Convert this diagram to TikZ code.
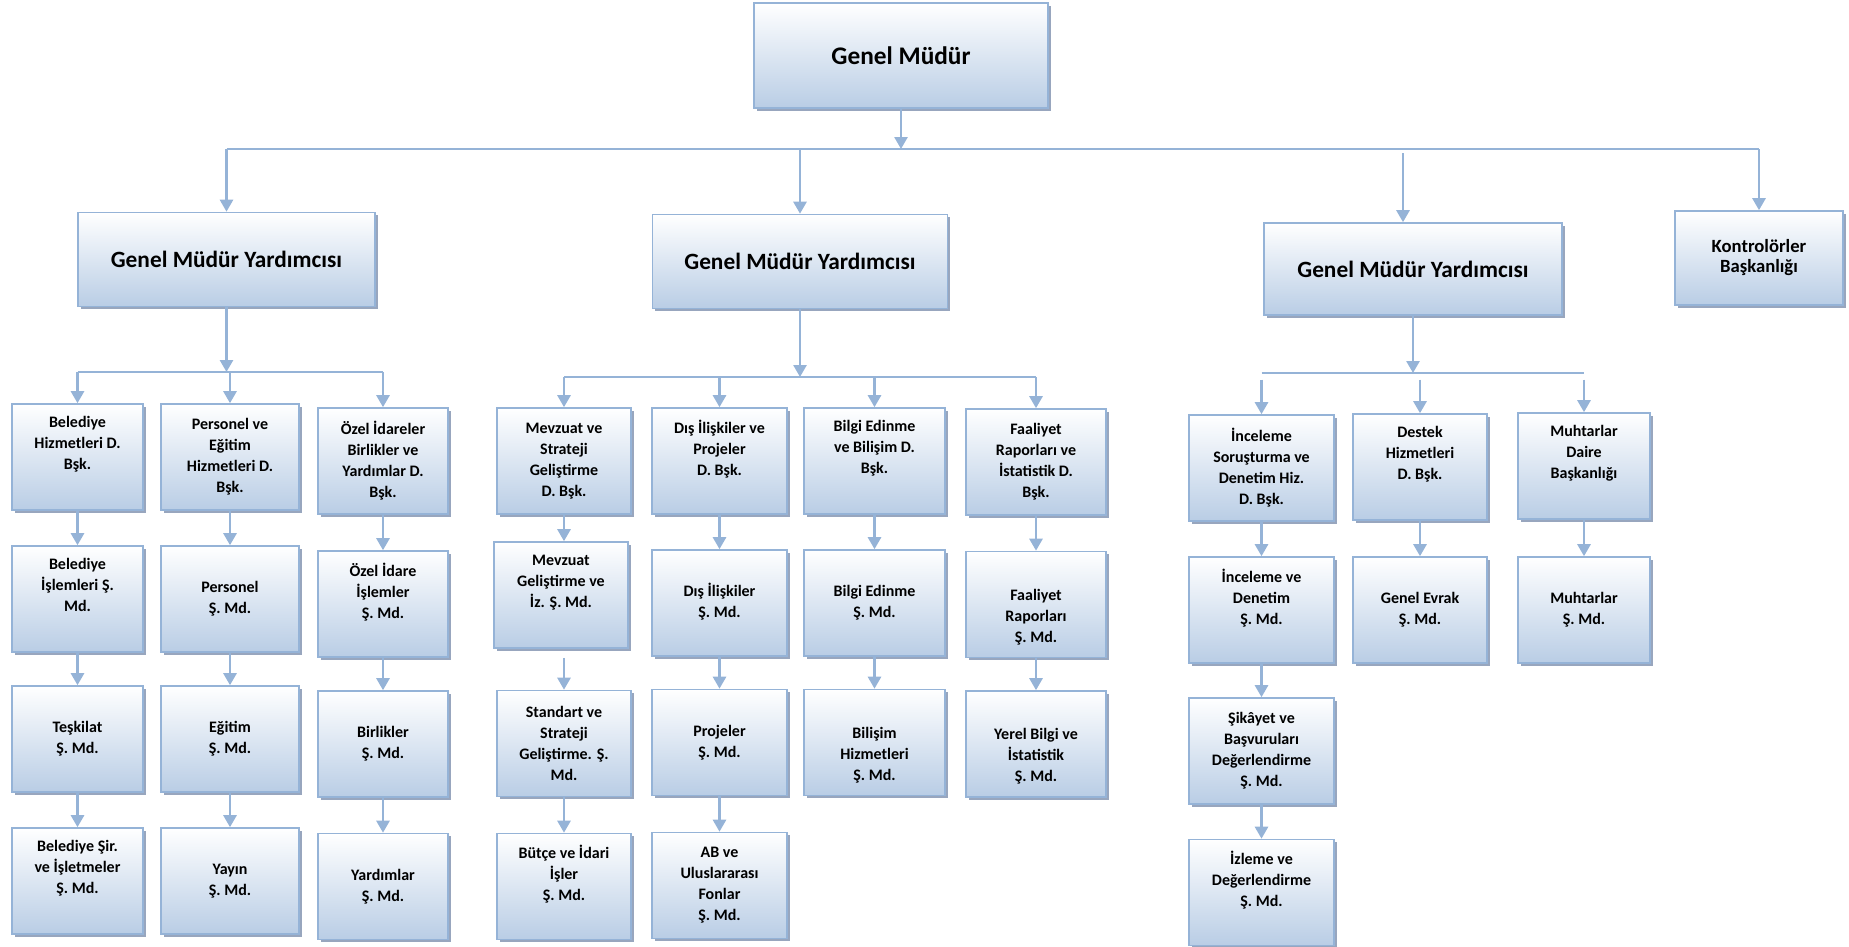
\documentclass[tikz,border=0pt]{standalone}
\usepackage{fontspec}
\setmainfont{Carlito}
\usetikzlibrary{arrows.meta,shadows}

\definecolor{boxline}{RGB}{149,179,215}
\definecolor{boxfill}{RGB}{185,205,229}
\definecolor{boxshade}{RGB}{152,166,190}
\definecolor{linkblue}{RGB}{149,179,215}

\tikzset{every picture/.style={line width=0.75pt}}
\tikzset{
  unit/.style={draw=boxline, line width=1.2pt, top color=white, bottom color=boxfill,
    drop shadow={shadow xshift=2.2pt, shadow yshift=-2.2pt, fill=boxshade, opacity=1},
    align=center, inner sep=0pt, minimum height=79.5pt,
    font=\bfseries\fontsize{12}{15.75}\selectfont},
  deputy/.style={unit, minimum height=70.5pt, font=\bfseries\fontsize{17.5}{21}\selectfont},
  link/.style={draw=linkblue, line width=2pt, -{Triangle[width=9.75pt,length=9pt]}},
  bus/.style={draw=linkblue, line width=2pt},
}

\begin{document}
\begin{tikzpicture}[x=0.75pt,y=0.75pt,yscale=-1,xscale=1]
\useasboundingbox (0,0) rectangle (1849,946);

%Shape: Rectangle -- Genel Mudur
\node [unit, minimum width=220.5pt, minimum height=78.75pt, font=\bfseries\fontsize{19}{23}\selectfont] (gm) at (901,55.5) {Genel Müdür};

%Shape: Rectangle -- deputies
\node [deputy, minimum width=222.75pt] (gmy1) at (226.5,259.5) {Genel Müdür Yardımcısı};
\node [deputy, minimum width=221.25pt] (gmy2) at (800,261.5) {Genel Müdür Yardımcısı};
\node [deputy, minimum width=223.5pt, minimum height=69pt] (gmy3) at (1413,269) {Genel Müdür Yardımcısı};
\node [unit, minimum width=126pt, minimum height=70.5pt, font=\bfseries\fontsize{14}{15}\selectfont] (kb) at (1759,258) {Kontrolörler\\Başkanlığı};

%Shape: Rectangle -- left column group
\node [unit, minimum width=98.25pt] (b1) at (77.5,457) {Belediye\\Hizmetleri D.\\Bşk.\\\strut};
\node [unit, minimum width=98.25pt] (b2) at (77.5,599) {Belediye\\İşlemleri Ş.\\Md.\\\strut};
\node [unit, minimum width=98.25pt] (b3) at (77.5,739) {\strut\\Teşkilat\\Ş. Md.\\\strut};
\node [unit, minimum width=98.25pt] (b4) at (77.5,881) {Belediye Şir.\\ve İşletmeler\\Ş. Md.\\\strut};

\node [unit, minimum width=103.5pt] (p1) at (230,457) {Personel ve\\Eğitim\\Hizmetleri D.\\Bşk.};
\node [unit, minimum width=103.5pt] (p2) at (230,599) {\strut\\Personel\\Ş. Md.\\\strut};
\node [unit, minimum width=103.5pt] (p3) at (230,739) {\strut\\Eğitim\\Ş. Md.\\\strut};
\node [unit, minimum width=103.5pt] (p4) at (230,881) {\strut\\Yayın\\Ş. Md.\\\strut};

\node [unit, minimum width=97.5pt] (o1) at (383,461) {Özel İdareler\\Birlikler ve\\Yardımlar D.\\Bşk.};
\node [unit, minimum width=97.5pt] (o2) at (383,604) {Özel İdare\\İşlemler\\Ş. Md.\\\strut};
\node [unit, minimum width=97.5pt] (o3) at (383,744) {\strut\\Birlikler\\Ş. Md.\\\strut};
\node [unit, minimum width=97.5pt] (o4) at (383,886.5) {\strut\\Yardımlar\\Ş. Md.\\\strut};

%Shape: Rectangle -- middle group
\node [unit, minimum width=100.5pt] (mv1) at (564,461) {Mevzuat ve\\Strateji\\Geliştirme\\D. Bşk.};
\node [unit, minimum width=100.5pt] (mv2) at (561,595) {Mevzuat\\Geliştirme ve\\İz. Ş. Md.\\\strut};
\node [unit, minimum width=100.5pt] (mv3) at (564,743.5) {Standart ve\\Strateji\\Geliştirme. Ş.\\Md.};
\node [unit, minimum width=100.5pt] (mv4) at (564,886.5) {Bütçe ve İdari\\İşler\\Ş. Md.\\\strut};

\node [unit, minimum width=101.25pt] (di1) at (719.5,461) {Dış İlişkiler ve\\Projeler\\D. Bşk.\\\strut};
\node [unit, minimum width=101.25pt] (di2) at (719.5,603) {\strut\\Dış İlişkiler\\Ş. Md.\\\strut};
\node [unit, minimum width=101.25pt] (di3) at (719.5,742.5) {\strut\\Projeler\\Ş. Md.\\\strut};
\node [unit, minimum width=101.25pt] (di4) at (719.5,885.5) {AB ve\\Uluslararası\\Fonlar\\Ş. Md.};

\node [unit, minimum width=105.75pt] (be1) at (874.5,461) {Bilgi Edinme\\ve Bilişim D.\\Bşk.\\\strut};
\node [unit, minimum width=105.75pt] (be2) at (874.5,603) {\strut\\Bilgi Edinme\\Ş. Md.\\\strut};
\node [unit, minimum width=105.75pt] (be3) at (874.5,742.5) {\strut\\Bilişim\\Hizmetleri\\Ş. Md.};

\node [unit, minimum width=105pt] (fa1) at (1036,462) {Faaliyet\\Raporları ve\\İstatistik D.\\Bşk.};
\node [unit, minimum width=105pt] (fa2) at (1036,604.5) {\strut\\Faaliyet\\Raporları\\Ş. Md.};
\node [unit, minimum width=105pt] (fa3) at (1036,744) {\strut\\Yerel Bilgi ve\\İstatistik\\Ş. Md.};

%Shape: Rectangle -- right group
\node [unit, minimum width=108.75pt] (in1) at (1261.5,468) {İnceleme\\Soruşturma ve\\Denetim Hiz.\\D. Bşk.};
\node [unit, minimum width=108.75pt] (in2) at (1261.5,610) {İnceleme ve\\Denetim\\Ş. Md.\\\strut};
\node [unit, minimum width=108.75pt] (in3) at (1261.5,751) {Şikâyet ve\\Başvuruları\\Değerlendirme\\Ş. Md.};
\node [unit, minimum width=108.75pt] (in4) at (1261.5,892.5) {İzleme ve\\Değerlendirme\\Ş. Md.\\\strut};

\node [unit, minimum width=100.5pt] (de1) at (1420,467) {Destek\\Hizmetleri\\D. Bşk.\\\strut};
\node [unit, minimum width=100.5pt] (de2) at (1420,610) {\strut\\Genel Evrak\\Ş. Md.\\\strut};

\node [unit, minimum width=99pt] (mu1) at (1584,466) {Muhtarlar\\Daire\\Başkanlığı\\\strut};
\node [unit, minimum width=99pt] (mu2) at (1584,610) {\strut\\Muhtarlar\\Ş. Md.\\\strut};

%Straight Lines -- bus rails
\coordinate (bus0) at (0,149);
\coordinate (bus1) at (0,372);
\coordinate (bus2) at (0,377);
\coordinate (bus3) at (0,373);
\coordinate (d3) at (1403,153);

\draw [link] (gm.south) -- (gm.south |- bus0);
\draw [bus] (gmy1.north |- bus0) -- (kb.north |- bus0);
\draw [link] (gmy1.north |- bus0) -- (gmy1.north);
\draw [link] (gmy2.north |- bus0) -- (gmy2.north);
\draw [link] (d3) -- (d3 |- gmy3.north);
\draw [link] (kb.north |- bus0) -- (kb.north);

%Straight Lines -- left group
\draw [link] (gmy1.south) -- (gmy1.south |- bus1);
\draw [bus] (b1.north |- bus1) -- (o1.north |- bus1);
\draw [link] (b1.north |- bus1) -- (b1.north);
\draw [link] (p1.north |- bus1) -- (p1.north);
\draw [link] (o1.north |- bus1) -- (o1.north);
\draw [link] (b1.south) -- (b2.north);
\draw [link] (b2.south) -- (b3.north);
\draw [link] (b3.south) -- (b4.north);
\draw [link] (p1.south) -- (p2.north);
\draw [link] (p2.south) -- (p3.north);
\draw [link] (p3.south) -- (p4.north);
\draw [link] (o1.south) -- (o2.north);
\draw [link] (o2.south) -- (o3.north);
\draw [link] (o3.south) -- (o4.north);

%Straight Lines -- middle group
\draw [link] (gmy2.south) -- (gmy2.south |- bus2);
\draw [bus] (mv1.north |- bus2) -- (fa1.north |- bus2);
\draw [link] (mv1.north |- bus2) -- (mv1.north);
\draw [link] (di1.north |- bus2) -- (di1.north);
\draw [link] (be1.north |- bus2) -- (be1.north);
\draw [link] (fa1.north |- bus2) -- (fa1.north);
\draw [link] (mv1.south) -- (mv1.south |- mv2.north);
\draw [link, shorten <=6.75pt] (mv3.north |- mv2.south) -- (mv3.north);
\draw [link] (mv3.south) -- (mv4.north);
\draw [link] (di1.south) -- (di2.north);
\draw [link] (di2.south) -- (di3.north);
\draw [link] (di3.south) -- (di4.north);
\draw [link] (be1.south) -- (be2.north);
\draw [link] (be2.south) -- (be3.north);
\draw [link] (fa1.south) -- (fa2.north);
\draw [link] (fa2.south) -- (fa3.north);

%Straight Lines -- right group
\draw [link] (gmy3.south) -- (gmy3.south |- bus3);
\draw [bus] (in1.north |- bus3) -- (mu1.north |- bus3);
\draw [link, shorten <=5pt] (in1.north |- bus3) -- (in1.north);
\draw [link, shorten <=5pt] (de1.north |- bus3) -- (de1.north);
\draw [link, shorten <=5pt] (mu1.north |- bus3) -- (mu1.north);
\draw [link] (in1.south) -- (in2.north);
\draw [link] (in2.south) -- (in3.north);
\draw [link] (in3.south) -- (in4.north);
\draw [link] (de1.south) -- (de2.north);
\draw [link] (mu1.south) -- (mu2.north);

\end{tikzpicture}
\end{document}
